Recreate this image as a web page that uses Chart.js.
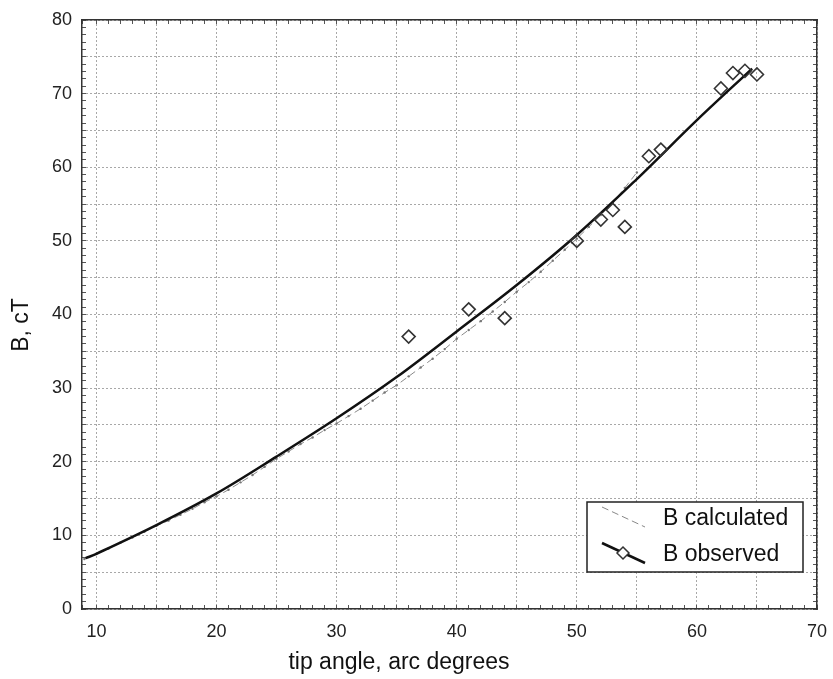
<!DOCTYPE html>
<html>
<head>
<meta charset="utf-8">
<script src="https://cdn.jsdelivr.net/npm/chart.js@4"></script>
<style>
  body { margin: 0; background: #fff; }
  #wrap { width: 833px; height: 679px; }
</style>
</head>
<body>
<div id="wrap"><canvas id="chart" width="833" height="679"></canvas></div>
<script>
// values
const fitX = [9.1, 10, 15, 20, 25, 30, 35, 40, 45, 50, 55, 60, 64.6];
const fitY = [6.9, 7.5, 11.4, 15.7, 20.7, 25.9, 31.5, 37.7, 44.0, 50.8, 58.4, 66.4, 73.4];

const obsX = [36, 41, 44, 50, 52, 53, 54, 56, 57, 62, 63, 64, 65];
const obsY = [37.0, 40.7, 39.5, 50.0, 52.9, 54.2, 51.9, 61.5, 62.4, 70.7, 72.8, 73.1, 72.6];

const calcX = [9, 10, 11, 12, 13, 14, 15, 16, 17, 18, 19, 20, 21, 22, 23, 24, 25, 26, 27, 28, 29, 30,
  31, 32, 33, 34, 35, 36, 37, 38, 39, 40, 41, 42, 43, 44, 45, 46, 47, 48, 49, 50, 51, 52, 53, 54, 55];
const calcY = [6.8, 7.5, 8.2, 9.0, 9.7, 10.5, 11.3, 12.0, 12.8, 13.6, 14.5, 15.3, 16.2, 17.2, 18.2, 19.3,
  20.4, 21.4, 22.4, 23.3, 24.3, 25.2, 26.2, 27.2, 28.3, 29.4, 30.4, 31.6, 32.8, 34.0, 35.3, 36.7,
  37.9, 39.1, 40.4, 41.7, 43.1, 44.4, 45.8, 47.3, 48.8, 50.3, 51.9, 53.5, 55.2, 57.2, 59.3];

const xTicks = [10, 15, 20, 25, 30, 35, 40, 45, 50, 55, 60, 65, 70];
const X_MIN = 8.8, X_MAX = 70, Y_MIN = 0, Y_MAX = 80;

const FONT = '"Liberation Sans", Arial, sans-serif';
const zip = (xs, ys) => xs.map((x, i) => ({ x, y: ys[i] }));

const gridStyle = { color: "#a8a8a8", lineWidth: 1, drawTicks: false };
const dash = [2, 2];

// small axes that only draw the inward minor ticks + frame
function minorAxis(position, isX) {
  return {
    type: "linear",
    position,
    axis: isX ? "x" : "y",
    min: isX ? X_MIN : Y_MIN,
    max: isX ? X_MAX : Y_MAX,
    weight: 0,
    ticks: { display: false, stepSize: 1 },
    grid: { drawOnChartArea: false, drawTicks: true, tickLength: -4, color: "#555", lineWidth: 1 },
    border: { display: true, color: "#333", width: 1.5 },
    afterFit: (s) => {
      if (isX) s.height = 0; else s.width = 0;
      s.paddingLeft = s.paddingRight = s.paddingTop = s.paddingBottom = 0;
    }
  };
}

// legend box + axis titles
const decor = {
  id: "decor",
  afterDraw(chart) {
    const { ctx, chartArea: a } = chart;
    ctx.save();
    // axis titles
    ctx.fillStyle = "#111";
    ctx.font = `23px ${FONT}`;
    ctx.textAlign = "center";
    ctx.textBaseline = "alphabetic";
    ctx.fillText("tip angle, arc degrees", 399, 669);
    ctx.save();
    ctx.translate(28, 325);
    ctx.rotate(-Math.PI / 2);
    ctx.fillText("B, cT", 0, 0);
    ctx.restore();

    // legend
    const lx = a.right - 230, ly = a.bottom - 107, lw = 216, lh = 70;
    ctx.fillStyle = "#fff";
    ctx.fillRect(lx, ly, lw, lh);
    ctx.strokeStyle = "#222";
    ctx.lineWidth = 1.5;
    ctx.strokeRect(lx, ly, lw, lh);

    // calculated sample
    ctx.strokeStyle = "#888";
    ctx.lineWidth = 1;
    ctx.setLineDash([7, 4]);
    ctx.beginPath();
    ctx.moveTo(lx + 15, ly + 5);
    ctx.lineTo(lx + 58, ly + 25);
    ctx.stroke();
    ctx.setLineDash([]);

    // observed sample
    ctx.strokeStyle = "#111";
    ctx.lineWidth = 2.5;
    ctx.beginPath();
    ctx.moveTo(lx + 15, ly + 41);
    ctx.lineTo(lx + 58, ly + 61);
    ctx.stroke();
    const cx = lx + 36, cy = ly + 51, r = 6;
    ctx.fillStyle = "#fff";
    ctx.strokeStyle = "#333";
    ctx.lineWidth = 1.5;
    ctx.beginPath();
    ctx.moveTo(cx, cy - r); ctx.lineTo(cx + r, cy); ctx.lineTo(cx, cy + r); ctx.lineTo(cx - r, cy);
    ctx.closePath();
    ctx.fill(); ctx.stroke();

    ctx.fillStyle = "#111";
    ctx.font = `23px ${FONT}`;
    ctx.textAlign = "left";
    ctx.textBaseline = "middle";
    ctx.fillText("B calculated", lx + 76, ly + 17);
    ctx.fillText("B observed", lx + 76, ly + 53);
    ctx.restore();
  }
};

new Chart(document.getElementById("chart"), {
  type: "scatter",
  data: {
    datasets: [
      {
        label: "B calculated",
        data: zip(calcX, calcY),
        showLine: true,
        borderColor: "#8a8a8a",
        borderWidth: 1,
        borderDash: [7, 4],
        pointRadius: 1.2,
        pointBackgroundColor: "#777",
        pointBorderWidth: 0,
        order: 3
      },
      {
        label: "fit",
        data: zip(fitX, fitY),
        showLine: true,
        borderColor: "#111",
        borderWidth: 2.5,
        tension: 0.35,
        pointRadius: 0,
        order: 2
      },
      {
        label: "B observed",
        data: zip(obsX, obsY),
        showLine: false,
        pointStyle: "rectRot",
        pointRadius: 6.5,
        pointBorderColor: "#333",
        pointBorderWidth: 1.6,
        pointBackgroundColor: "rgba(255,255,255,0)",
        order: 1
      }
    ]
  },
  options: {
    responsive: false,
    animation: false,
    layout: { padding: { top: 20, right: 16, left: 0, bottom: 0 } },
    plugins: { legend: { display: false }, tooltip: { enabled: false } },
    scales: {
      x: {
        type: "linear",
        position: "bottom",
        min: X_MIN, max: X_MAX,
        weight: 1,
        afterBuildTicks: (s) => { s.ticks = xTicks.map(v => ({ value: v })); },
        ticks: {
          color: "#222",
          font: { family: FONT, size: 18 },
          padding: 12,
          maxRotation: 0,
          autoSkip: false,
          callback: (v) => (v % 10 === 0 ? v : "")
        },
        grid: gridStyle,
        border: { display: false, dash },
        afterFit: (s) => { s.height = 70; s.paddingLeft = 0; s.paddingRight = 0; }
      },
      y: {
        type: "linear",
        position: "left",
        min: Y_MIN, max: Y_MAX,
        weight: 1,
        ticks: {
          stepSize: 5,
          color: "#222",
          font: { family: FONT, size: 18 },
          padding: 10,
          autoSkip: false,
          callback: (v) => (v % 10 === 0 ? v : "")
        },
        grid: gridStyle,
        border: { display: false, dash },
        afterFit: (s) => { s.width = 82; s.paddingTop = 0; s.paddingBottom = 0; }
      },
      xMinor: minorAxis("bottom", true),
      xTop: minorAxis("top", true),
      yMinor: minorAxis("left", false),
      yRight: minorAxis("right", false)
    }
  },
  plugins: [decor]
});
</script>
</body>
</html>
